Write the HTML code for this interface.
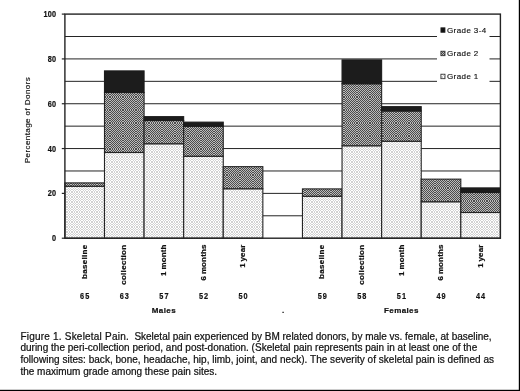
<!DOCTYPE html>
<html lang="en"><head><meta charset="utf-8"><title>Figure 1. Skeletal Pain</title>
<style>
html,body{margin:0;padding:0;background:#fff;}
body{width:520px;height:391px;overflow:hidden;}
svg{display:block;}
text{font-family:"Liberation Sans",Arial,sans-serif;fill:#111;}
.s{font-size:8px;stroke:#111;stroke-width:0.15px;}
.n{font-size:8.6px;}
.b{font-weight:bold;stroke:#111;stroke-width:0.2px;}
.c{font-size:10px;stroke:#111;stroke-width:0.22px;}
</style></head><body>
<svg width="520" height="391" viewBox="0 0 520 391">
<defs>
<pattern id="p1" width="5" height="5" patternUnits="userSpaceOnUse"><rect width="5" height="5" fill="#ffffff"/><path d="M0.000 0.000h1.250v1.250h-1.250zM2.500 0.000h1.250v1.250h-1.250zM1.250 1.250h1.250v1.250h-1.250zM3.750 1.250h1.250v1.250h-1.250zM0.000 2.500h1.250v1.250h-1.250zM2.500 2.500h1.250v1.250h-1.250zM1.250 3.750h1.250v1.250h-1.250zM3.750 3.750h1.250v1.250h-1.250z" fill="#d2d2d2" shape-rendering="crispEdges"/></pattern>
<pattern id="p2" width="13" height="13" patternUnits="userSpaceOnUse"><rect width="13" height="13" fill="#bcbcbc"/><path d="M0.000 0.000h1.083v1.083h-1.083zM2.167 0.000h1.083v1.083h-1.083zM4.333 0.000h1.083v1.083h-1.083zM6.500 0.000h1.083v1.083h-1.083zM8.667 0.000h1.083v1.083h-1.083zM10.833 0.000h1.083v1.083h-1.083zM1.083 1.083h1.083v1.083h-1.083zM3.250 1.083h1.083v1.083h-1.083zM5.417 1.083h1.083v1.083h-1.083zM7.583 1.083h1.083v1.083h-1.083zM9.750 1.083h1.083v1.083h-1.083zM11.917 1.083h1.083v1.083h-1.083zM0.000 2.167h1.083v1.083h-1.083zM2.167 2.167h1.083v1.083h-1.083zM4.333 2.167h1.083v1.083h-1.083zM6.500 2.167h1.083v1.083h-1.083zM8.667 2.167h1.083v1.083h-1.083zM10.833 2.167h1.083v1.083h-1.083zM1.083 3.250h1.083v1.083h-1.083zM3.250 3.250h1.083v1.083h-1.083zM5.417 3.250h1.083v1.083h-1.083zM7.583 3.250h1.083v1.083h-1.083zM9.750 3.250h1.083v1.083h-1.083zM11.917 3.250h1.083v1.083h-1.083zM0.000 4.333h1.083v1.083h-1.083zM2.167 4.333h1.083v1.083h-1.083zM4.333 4.333h1.083v1.083h-1.083zM6.500 4.333h1.083v1.083h-1.083zM8.667 4.333h1.083v1.083h-1.083zM10.833 4.333h1.083v1.083h-1.083zM1.083 5.417h1.083v1.083h-1.083zM3.250 5.417h1.083v1.083h-1.083zM5.417 5.417h1.083v1.083h-1.083zM7.583 5.417h1.083v1.083h-1.083zM9.750 5.417h1.083v1.083h-1.083zM11.917 5.417h1.083v1.083h-1.083zM0.000 6.500h1.083v1.083h-1.083zM2.167 6.500h1.083v1.083h-1.083zM4.333 6.500h1.083v1.083h-1.083zM6.500 6.500h1.083v1.083h-1.083zM8.667 6.500h1.083v1.083h-1.083zM10.833 6.500h1.083v1.083h-1.083zM1.083 7.583h1.083v1.083h-1.083zM3.250 7.583h1.083v1.083h-1.083zM5.417 7.583h1.083v1.083h-1.083zM7.583 7.583h1.083v1.083h-1.083zM9.750 7.583h1.083v1.083h-1.083zM11.917 7.583h1.083v1.083h-1.083zM0.000 8.667h1.083v1.083h-1.083zM2.167 8.667h1.083v1.083h-1.083zM4.333 8.667h1.083v1.083h-1.083zM6.500 8.667h1.083v1.083h-1.083zM8.667 8.667h1.083v1.083h-1.083zM10.833 8.667h1.083v1.083h-1.083zM1.083 9.750h1.083v1.083h-1.083zM3.250 9.750h1.083v1.083h-1.083zM5.417 9.750h1.083v1.083h-1.083zM7.583 9.750h1.083v1.083h-1.083zM9.750 9.750h1.083v1.083h-1.083zM11.917 9.750h1.083v1.083h-1.083zM0.000 10.833h1.083v1.083h-1.083zM2.167 10.833h1.083v1.083h-1.083zM4.333 10.833h1.083v1.083h-1.083zM6.500 10.833h1.083v1.083h-1.083zM8.667 10.833h1.083v1.083h-1.083zM10.833 10.833h1.083v1.083h-1.083zM1.083 11.917h1.083v1.083h-1.083zM3.250 11.917h1.083v1.083h-1.083zM5.417 11.917h1.083v1.083h-1.083zM7.583 11.917h1.083v1.083h-1.083zM9.750 11.917h1.083v1.083h-1.083zM11.917 11.917h1.083v1.083h-1.083z" fill="#4c4c4c" shape-rendering="crispEdges"/></pattern>
</defs>
<rect width="520" height="391" fill="#fff"/>

<line x1="64.9" y1="215.79" x2="500.4" y2="215.79" stroke="#242424" stroke-width="1"/>
<line x1="64.9" y1="193.38" x2="500.4" y2="193.38" stroke="#242424" stroke-width="1"/>
<line x1="64.9" y1="170.97" x2="500.4" y2="170.97" stroke="#242424" stroke-width="1"/>
<line x1="64.9" y1="148.56" x2="500.4" y2="148.56" stroke="#242424" stroke-width="1"/>
<line x1="64.9" y1="126.15" x2="500.4" y2="126.15" stroke="#242424" stroke-width="1"/>
<line x1="64.9" y1="103.74" x2="500.4" y2="103.74" stroke="#242424" stroke-width="1"/>
<line x1="64.9" y1="81.33" x2="500.4" y2="81.33" stroke="#242424" stroke-width="1"/>
<line x1="64.9" y1="58.92" x2="500.4" y2="58.92" stroke="#242424" stroke-width="1"/>
<line x1="64.9" y1="36.51" x2="500.4" y2="36.51" stroke="#242424" stroke-width="1"/>
<rect x="437" y="20" width="52.5" height="70" fill="#fff"/>
<rect x="64.90" y="186.25" width="39.59" height="51.95" fill="url(#p1)" stroke="#242424" stroke-width="1.1"/>
<rect x="64.90" y="182.90" width="39.59" height="3.35" fill="url(#p2)" stroke="#242424" stroke-width="1.1"/>
<rect x="104.49" y="152.50" width="39.59" height="85.70" fill="url(#p1)" stroke="#242424" stroke-width="1.1"/>
<rect x="104.49" y="92.50" width="39.59" height="60.00" fill="url(#p2)" stroke="#242424" stroke-width="1.1"/>
<rect x="104.49" y="70.90" width="39.59" height="21.60" fill="#1c1c1c" stroke="#1c1c1c" stroke-width="1.1"/>
<rect x="144.08" y="143.75" width="39.59" height="94.45" fill="url(#p1)" stroke="#242424" stroke-width="1.1"/>
<rect x="144.08" y="120.50" width="39.59" height="23.25" fill="url(#p2)" stroke="#242424" stroke-width="1.1"/>
<rect x="144.08" y="116.65" width="39.59" height="3.85" fill="#1c1c1c" stroke="#1c1c1c" stroke-width="1.1"/>
<rect x="183.67" y="156.25" width="39.59" height="81.95" fill="url(#p1)" stroke="#242424" stroke-width="1.1"/>
<rect x="183.67" y="126.25" width="39.59" height="30.00" fill="url(#p2)" stroke="#242424" stroke-width="1.1"/>
<rect x="183.67" y="122.15" width="39.59" height="4.10" fill="#1c1c1c" stroke="#1c1c1c" stroke-width="1.1"/>
<rect x="223.26" y="188.75" width="39.59" height="49.45" fill="url(#p1)" stroke="#242424" stroke-width="1.1"/>
<rect x="223.26" y="166.65" width="39.59" height="22.10" fill="url(#p2)" stroke="#242424" stroke-width="1.1"/>
<rect x="302.45" y="196.25" width="39.59" height="41.95" fill="url(#p1)" stroke="#242424" stroke-width="1.1"/>
<rect x="302.45" y="188.90" width="39.59" height="7.35" fill="url(#p2)" stroke="#242424" stroke-width="1.1"/>
<rect x="342.04" y="145.75" width="39.59" height="92.45" fill="url(#p1)" stroke="#242424" stroke-width="1.1"/>
<rect x="342.04" y="83.75" width="39.59" height="62.00" fill="url(#p2)" stroke="#242424" stroke-width="1.1"/>
<rect x="342.04" y="59.90" width="39.59" height="23.85" fill="#1c1c1c" stroke="#1c1c1c" stroke-width="1.1"/>
<rect x="381.63" y="141.25" width="39.59" height="96.95" fill="url(#p1)" stroke="#242424" stroke-width="1.1"/>
<rect x="381.63" y="111.00" width="39.59" height="30.25" fill="url(#p2)" stroke="#242424" stroke-width="1.1"/>
<rect x="381.63" y="106.65" width="39.59" height="4.35" fill="#1c1c1c" stroke="#1c1c1c" stroke-width="1.1"/>
<rect x="421.22" y="201.75" width="39.59" height="36.45" fill="url(#p1)" stroke="#242424" stroke-width="1.1"/>
<rect x="421.22" y="179.15" width="39.59" height="22.60" fill="url(#p2)" stroke="#242424" stroke-width="1.1"/>
<rect x="460.81" y="212.50" width="39.59" height="25.70" fill="url(#p1)" stroke="#242424" stroke-width="1.1"/>
<rect x="460.81" y="192.50" width="39.59" height="20.00" fill="url(#p2)" stroke="#242424" stroke-width="1.1"/>
<rect x="460.81" y="187.90" width="39.59" height="4.60" fill="#1c1c1c" stroke="#1c1c1c" stroke-width="1.1"/>
<rect x="64.9" y="14.1" width="435.50" height="224.10" fill="none" stroke="#242424" stroke-width="1.4"/>
<line x1="61.8" y1="238.20" x2="64.9" y2="238.20" stroke="#242424" stroke-width="1.2"/>
<text class="n b" transform="translate(56.3,241.30) scale(0.85,1)" text-anchor="end" letter-spacing="0.2">0</text>
<line x1="61.8" y1="193.38" x2="64.9" y2="193.38" stroke="#242424" stroke-width="1.2"/>
<text class="n b" transform="translate(56.3,196.48) scale(0.85,1)" text-anchor="end" letter-spacing="0.2">20</text>
<line x1="61.8" y1="148.56" x2="64.9" y2="148.56" stroke="#242424" stroke-width="1.2"/>
<text class="n b" transform="translate(56.3,151.66) scale(0.85,1)" text-anchor="end" letter-spacing="0.2">40</text>
<line x1="61.8" y1="103.74" x2="64.9" y2="103.74" stroke="#242424" stroke-width="1.2"/>
<text class="n b" transform="translate(56.3,106.84) scale(0.85,1)" text-anchor="end" letter-spacing="0.2">60</text>
<line x1="61.8" y1="58.92" x2="64.9" y2="58.92" stroke="#242424" stroke-width="1.2"/>
<text class="n b" transform="translate(56.3,62.02) scale(0.85,1)" text-anchor="end" letter-spacing="0.2">80</text>
<line x1="61.8" y1="14.10" x2="64.9" y2="14.10" stroke="#242424" stroke-width="1.2"/>
<text class="n b" transform="translate(56.3,17.20) scale(0.85,1)" text-anchor="end" letter-spacing="0.2">100</text>
<text class="s" transform="translate(30.1,120.25) rotate(-90)" text-anchor="middle" textLength="86" lengthAdjust="spacing">Percentage of Donors</text>
<rect x="440.9" y="27.80" width="4.1" height="4.5" fill="#111" stroke="#242424" stroke-width="0.8"/>
<text class="s" x="447" y="32.90" letter-spacing="0.4">Grade 3-4</text>
<rect x="440.9" y="51.20" width="4.1" height="4.5" fill="url(#p2)" stroke="#242424" stroke-width="0.8"/>
<text class="s" x="447" y="56.30" letter-spacing="0.4">Grade 2</text>
<rect x="440.9" y="74.20" width="4.1" height="4.5" fill="url(#p1)" stroke="#242424" stroke-width="0.8"/>
<text class="s" x="447" y="79.30" letter-spacing="0.4">Grade 1</text>
<text class="s b" transform="translate(86.90,244.5) rotate(-90)" text-anchor="end" letter-spacing="0.3" word-spacing="0">baseline</text>
<text class="n b" transform="translate(85.20,298.6) scale(0.85,1)" text-anchor="middle" letter-spacing="1.2">65</text>
<text class="s b" transform="translate(126.49,244.5) rotate(-90)" text-anchor="end" letter-spacing="0.3" word-spacing="0">collection</text>
<text class="n b" transform="translate(124.79,298.6) scale(0.85,1)" text-anchor="middle" letter-spacing="1.2">63</text>
<text class="s b" transform="translate(166.08,244.5) rotate(-90)" text-anchor="end" letter-spacing="0.12" word-spacing="-0.5">1 month</text>
<text class="n b" transform="translate(164.38,298.6) scale(0.85,1)" text-anchor="middle" letter-spacing="1.2">57</text>
<text class="s b" transform="translate(205.67,244.5) rotate(-90)" text-anchor="end" letter-spacing="0.12" word-spacing="-0.5">6 months</text>
<text class="n b" transform="translate(203.97,298.6) scale(0.85,1)" text-anchor="middle" letter-spacing="1.2">52</text>
<text class="s b" transform="translate(245.26,244.5) rotate(-90)" text-anchor="end" letter-spacing="0.12" word-spacing="-0.5">1 year</text>
<text class="n b" transform="translate(243.56,298.6) scale(0.85,1)" text-anchor="middle" letter-spacing="1.2">50</text>
<text class="s b" transform="translate(324.44,244.5) rotate(-90)" text-anchor="end" letter-spacing="0.3" word-spacing="0">baseline</text>
<text class="n b" transform="translate(322.74,298.6) scale(0.85,1)" text-anchor="middle" letter-spacing="1.2">59</text>
<text class="s b" transform="translate(364.03,244.5) rotate(-90)" text-anchor="end" letter-spacing="0.3" word-spacing="0">collection</text>
<text class="n b" transform="translate(362.33,298.6) scale(0.85,1)" text-anchor="middle" letter-spacing="1.2">58</text>
<text class="s b" transform="translate(403.62,244.5) rotate(-90)" text-anchor="end" letter-spacing="0.12" word-spacing="-0.5">1 month</text>
<text class="n b" transform="translate(401.92,298.6) scale(0.85,1)" text-anchor="middle" letter-spacing="1.2">51</text>
<text class="s b" transform="translate(443.21,244.5) rotate(-90)" text-anchor="end" letter-spacing="0.12" word-spacing="-0.5">6 months</text>
<text class="n b" transform="translate(441.51,298.6) scale(0.85,1)" text-anchor="middle" letter-spacing="1.2">49</text>
<text class="s b" transform="translate(482.80,244.5) rotate(-90)" text-anchor="end" letter-spacing="0.12" word-spacing="-0.5">1 year</text>
<text class="n b" transform="translate(481.10,298.6) scale(0.85,1)" text-anchor="middle" letter-spacing="1.2">44</text>
<text class="s b" x="163.88" y="313" text-anchor="middle" letter-spacing="0.4">Males</text>
<text class="s b" x="401.42" y="313" text-anchor="middle" letter-spacing="0.4">Females</text>
<text class="s b" x="282" y="312.5">.</text>
<text class="c" x="20.4" y="339.6" textLength="108.3" lengthAdjust="spacing">Figure 1. Skeletal Pain.</text>
<text class="c" x="134.4" y="339.6" textLength="357.2" lengthAdjust="spacing">Skeletal pain experienced by BM related donors, by male vs. female, at baseline,</text>
<text class="c" x="20.4" y="351.4" textLength="456.8" lengthAdjust="spacing">during the peri-collection period, and post-donation. (Skeletal pain represents pain in at least one of the</text>
<text class="c" x="20.4" y="363.4" textLength="473.6" lengthAdjust="spacing">following sites: back, bone, headache, hip, limb, joint, and neck). The severity of skeletal pain is defined as</text>
<text class="c" x="20.4" y="375.2" textLength="196.6" lengthAdjust="spacing">the maximum grade among these pain sites.</text>
<rect x="518.8" y="0" width="1.2" height="391" fill="#000"/>
<rect x="0" y="389.8" width="520" height="1.2" fill="#000"/>
</svg></body></html>
